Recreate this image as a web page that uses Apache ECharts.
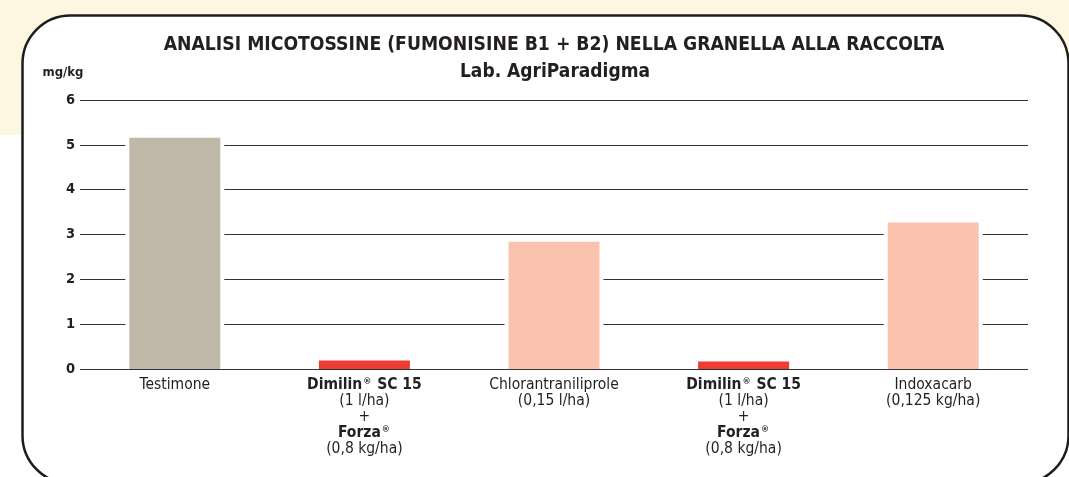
<!DOCTYPE html>
<html>
<head>
<meta charset="utf-8">
<script src="https://cdn.jsdelivr.net/npm/echarts@6/dist/echarts.min.js"></script>
<style>
html,body{margin:0;padding:0;background:#fff;}
#chart{width:1069px;height:477px;}
</style>
</head>
<body>
<div id="chart"></div>
<script>
const FONT = "'Liberation Sans Narrow', 'DejaVu Sans Condensed', 'Roboto Condensed', 'Liberation Sans', sans-serif";
const TEXT = '#231f20';

const titleText = 'ANALISI MICOTOSSINE (FUMONISINE B1 + B2) NELLA GRANELLA ALLA RACCOLTA';
const subtitleText = 'Lab. AgriParadigma';
const unitLabel = 'mg/kg';

const categories = [
  'Testimone',
  '{b|Dimilin}{r|®}{b| SC 15}\n(1 l/ha)\n+\n{b|Forza}{r|®}\n(0,8 kg/ha)',
  'Chlorantraniliprole\n(0,15 l/ha)',
  '{b|Dimilin}{r|®}{b| SC 15}\n(1 l/ha)\n+\n{b|Forza}{r|®}\n(0,8 kg/ha)',
  'Indoxacarb\n(0,125 kg/ha)'
];
const values = [5.16, 0.19, 2.84, 0.17, 3.27];
const barColors = ['#c0b9aa', '#ee3b33', '#f9c3b0', '#ee3b33', '#f9c3b0'];
const yMin = 0, yMax = 6, yStep = 1;

const chart = echarts.init(document.getElementById('chart'), null, {renderer: 'canvas'});

const option = {
  animation: false,
  backgroundColor: '#ffffff',
  textStyle: {fontFamily: FONT, color: TEXT},
  graphic: [
    {type: 'rect', z: -20, silent: true, shape: {x: 0, y: 0, width: 1069, height: 135}, style: {fill: '#fdf6e1'}},
    {type: 'rect', z: -19, silent: true, shape: {x: 22.5, y: 15.5, width: 1046, height: 468, r: 48}, style: {fill: '#ffffff', stroke: '#1d1d1b', lineWidth: 2.5}},
    {type: 'text', z: 10, silent: true, x: 554, y: 36, style: {text: titleText, fill: TEXT, font: 'bold 19.2px ' + FONT, textAlign: 'center', textVerticalAlign: 'top'}},
    {type: 'text', z: 10, silent: true, x: 555, y: 63, style: {text: subtitleText, fill: TEXT, font: 'bold 19px ' + FONT, textAlign: 'center', textVerticalAlign: 'top'}}
  ],
  grid: {left: 80, right: 41, top: 100, bottom: 108, containLabel: false},
  xAxis: [
    {
      type: 'category',
      data: categories,
      axisLine: {show: false},
      axisTick: {show: false},
      axisLabel: {
        interval: 0,
        margin: 8,
        fontFamily: FONT,
        fontSize: 15.5,
        lineHeight: 16,
        color: TEXT,
        align: 'center',
        rich: {
          b: {fontWeight: 'bold', fontFamily: FONT, fontSize: 15.5, lineHeight: 16, color: TEXT},
          r: {fontWeight: 'bold', fontFamily: FONT, fontSize: 9, lineHeight: 16, color: TEXT, verticalAlign: 'top', padding: [0, 1, 0, 1]}
        }
      }
    },
    {
      type: 'category',
      data: categories,
      show: false
    }
  ],
  yAxis: {
    type: 'value',
    min: yMin,
    max: yMax,
    interval: yStep,
    name: unitLabel,
    nameLocation: 'end',
    nameGap: 21,
    nameTextStyle: {fontFamily: FONT, fontWeight: 'bold', fontSize: 13, color: TEXT, padding: [0, 34, 0, 0]},
    axisLine: {show: false},
    axisTick: {show: false},
    axisLabel: {fontFamily: FONT, fontWeight: 'bold', fontSize: 14.5, color: TEXT, margin: 5},
    splitLine: {show: true, lineStyle: {color: '#333333', width: 1}}
  },
  series: [
    {
      type: 'bar',
      xAxisIndex: 1,
      data: values,
      barWidth: 99,
      silent: true,
      itemStyle: {color: '#ffffff'}
    },
    {
      type: 'bar',
      xAxisIndex: 0,
      data: values.map((v, i) => ({value: v, itemStyle: {color: barColors[i]}})),
      barWidth: 91,
      silent: true
    }
  ]
};
chart.setOption(option);
</script>
</body>
</html>
